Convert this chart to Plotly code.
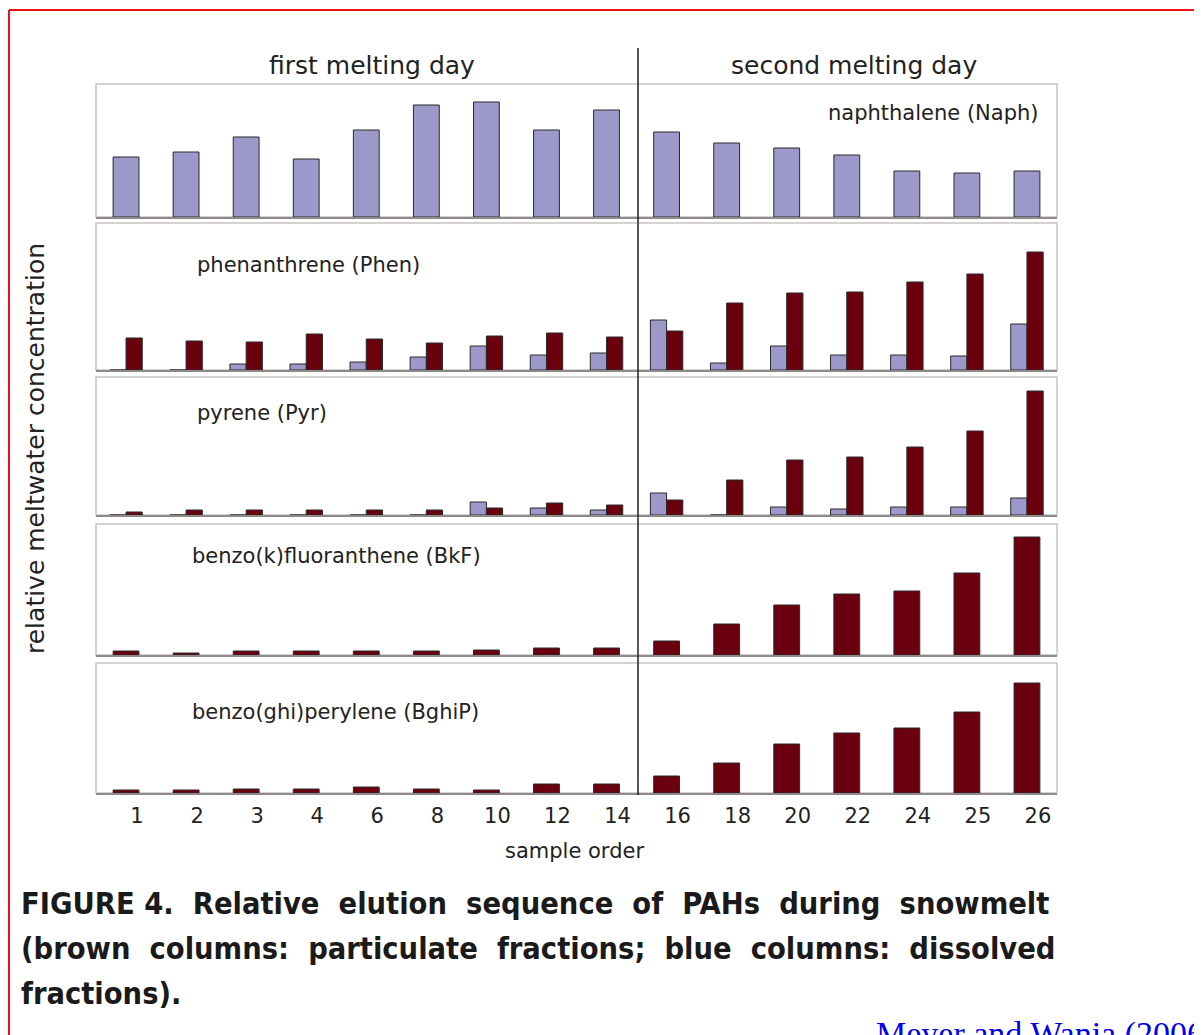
import plotly.graph_objects as go

# ---------------- data (relative units) ----------------
samples = ["1", "2", "3", "4", "6", "8", "10", "12", "14",
           "16", "18", "20", "22", "24", "25", "26"]

naph_dissolved = [60, 65, 80, 58, 87, 112, 115, 87, 107, 85, 74, 69, 62, 46, 44, 46]

phen_dissolved = [0, 0, 6, 6, 8, 13, 24, 15, 17, 50, 7, 24, 15, 15, 14, 46]
phen_particulate = [32, 29, 28, 36, 31, 27, 34, 37, 33, 39, 67, 77, 78, 88, 96, 118]

pyr_dissolved = [0, 0, 0, 0, 0, 0, 13, 7, 5, 22, 0, 8, 6, 8, 8, 17]
pyr_particulate = [3, 5, 5, 5, 5, 5, 7, 12, 10, 15, 35, 55, 58, 68, 84, 124]

bkf_particulate = [4, 2, 4, 4, 4, 4, 5, 7, 7, 14, 31, 50, 61, 64, 82, 118]

bghip_particulate = [3, 3, 4, 4, 6, 4, 3, 9, 9, 17, 30, 49, 60, 65, 81, 110]

panel_names = ["naphthalene (Naph)", "phenanthrene (Phen)", "pyrene (Pyr)",
               "benzo(k)fluoranthene (BkF)", "benzo(ghi)perylene (BghiP)"]

# ---------------- styling / layout ----------------
OFF = 8                      # page body margin of the browser
W, H = 1202 - OFF, 1035 - OFF
BLUE = "#9c98c9"
BROWN = "#6a000e"
OUTLINE = "#2a2a2a"
FONT = "DejaVu Sans, Liberation Sans, Arial, sans-serif"


def px(x):
    return (x - OFF) / W


def py(y):
    return 1 - (y - OFF) / H


X0, X1 = 96, 1057
panels = [(84, 217), (223, 370), (377, 515), (524, 655), (663, 793)]
yranges = [133, 147, 138, 131, 130]

fig = go.Figure()


def add_bar(i, vals, color, width, offset):
    fig.add_trace(go.Bar(
        x=samples, y=vals, xaxis=f"x{i}" if i > 1 else "x",
        yaxis=f"y{i}" if i > 1 else "y",
        marker=dict(color=color, line=dict(color=OUTLINE, width=1)),
        width=width, offset=offset, showlegend=False, hoverinfo="skip"))


SW = 0.43   # single bar width
GW = 0.27   # grouped bar width
add_bar(1, naph_dissolved, BLUE, SW, -SW / 2)
add_bar(2, phen_dissolved, BLUE, GW, -GW)
add_bar(2, phen_particulate, BROWN, GW, 0)
add_bar(3, pyr_dissolved, BLUE, GW, -GW)
add_bar(3, pyr_particulate, BROWN, GW, 0)
add_bar(4, bkf_particulate, BROWN, SW, -SW / 2)
add_bar(5, bghip_particulate, BROWN, SW, -SW / 2)

layout = dict(
    width=W, height=H, margin=dict(l=0, r=0, t=0, b=0),
    paper_bgcolor="white", plot_bgcolor="white",
    barmode="overlay", font=dict(family=FONT, color="#222"),
)

shapes = []
annotations = []
for i, ((top, bot), yr) in enumerate(zip(panels, yranges), start=1):
    xs = "xaxis" if i == 1 else f"xaxis{i}"
    ys = "yaxis" if i == 1 else f"yaxis{i}"
    layout[xs] = dict(
        domain=[px(X0), px(X1)], anchor="y" if i == 1 else f"y{i}",
        type="category", categoryorder="array", categoryarray=samples,
        range=[-0.5, len(samples) - 0.5],
        showgrid=False, zeroline=False,
        showline=True, linecolor="#8f8a8a", linewidth=2,
        showticklabels=(i == 5), ticks="outside" if i == 5 else "",
        ticklen=3, tickcolor="rgba(0,0,0,0)", ticklabelshift=11,
        tickfont=dict(size=21, family=FONT, color="#222"),
        fixedrange=True,
    )
    layout[ys] = dict(
        domain=[py(bot), py(top)], anchor="x" if i == 1 else f"x{i}",
        range=[0, yr], showgrid=False, zeroline=False,
        showticklabels=False, showline=False, fixedrange=True,
    )
    shapes.append(dict(type="rect", xref="paper", yref="paper",
                       x0=px(X0), x1=px(X1), y0=py(bot), y1=py(top),
                       line=dict(color="#c9c3c3", width=1.5), layer="below"))

# panel labels
annotations.append(dict(text=panel_names[0], x=px(1041), y=py(113), xref="paper", yref="paper",
                        xanchor="right", yanchor="middle", showarrow=False,
                        font=dict(size=21, family=FONT, color="#222")))
label_pos = [(195, 265), (195, 413), (190, 556), (190, 712)]
for name, (lx, ly) in zip(panel_names[1:], label_pos):
    annotations.append(dict(text=name, x=px(lx), y=py(ly), xref="paper", yref="paper",
                            xanchor="left", yanchor="middle", showarrow=False,
                            font=dict(size=21, family=FONT, color="#222")))

# section titles
annotations.append(dict(text="first melting day", x=px(372), y=py(66), xref="paper", yref="paper",
                        xanchor="center", yanchor="middle", showarrow=False,
                        font=dict(size=25, family=FONT, color="#222")))
annotations.append(dict(text="second melting day", x=px(854), y=py(66), xref="paper", yref="paper",
                        xanchor="center", yanchor="middle", showarrow=False,
                        font=dict(size=25, family=FONT, color="#222")))

# axis titles
annotations.append(dict(text="relative meltwater concentration", x=px(35), y=py(449),
                        xref="paper", yref="paper", textangle=-90,
                        xanchor="center", yanchor="middle", showarrow=False,
                        font=dict(size=25, family=FONT, color="#222")))
annotations.append(dict(text="sample order", x=px(574), y=py(851), xref="paper", yref="paper",
                        xanchor="center", yanchor="middle", showarrow=False,
                        font=dict(size=21, family=FONT, color="#222")))

# caption
CAP = "DejaVu Sans Condensed, DejaVu Sans, sans-serif"
cap_lines = [
    (903, "<b>FIGURE 4.&nbsp;&nbsp;Relative&nbsp; elution&nbsp; sequence&nbsp; of&nbsp; PAHs&nbsp; during&nbsp; snowmelt</b>"),
    (948, "<b>(brown&nbsp; columns:&nbsp;&nbsp;particulate&nbsp; fractions;&nbsp; blue&nbsp; columns:&nbsp;&nbsp;dissolved</b>"),
    (993, "<b>fractions).</b>"),
]
for yy, t in cap_lines:
    annotations.append(dict(text=t, x=px(19), y=py(yy), xref="paper", yref="paper",
                            xanchor="left", yanchor="middle", showarrow=False,
                            font=dict(size=30.5, family=CAP, color="#1a1a1a")))

annotations.append(dict(text="Meyer and Wania (2006)", x=px(874), y=py(1013), xref="paper", yref="paper",
                        xanchor="left", yanchor="top", showarrow=False,
                        font=dict(size=34, family="Liberation Serif, Times New Roman, serif",
                                  color="#0000ee")))

# divider line between melting days
shapes.append(dict(type="line", xref="paper", yref="paper",
                   x0=px(638), x1=px(638), y0=py(795), y1=py(48),
                   line=dict(color="#222", width=1.5)))
# red frame (top and left)
shapes.append(dict(type="line", xref="paper", yref="paper",
                   x0=px(9), x1=1.0, y0=py(10), y1=py(10),
                   line=dict(color="#ee1111", width=2)))
shapes.append(dict(type="line", xref="paper", yref="paper",
                   x0=px(9), x1=px(9), y0=py(10), y1=0,
                   line=dict(color="#ee1111", width=2)))

layout["shapes"] = shapes
layout["annotations"] = annotations
fig.update_layout(**layout)

fig.write_html("out.html")
